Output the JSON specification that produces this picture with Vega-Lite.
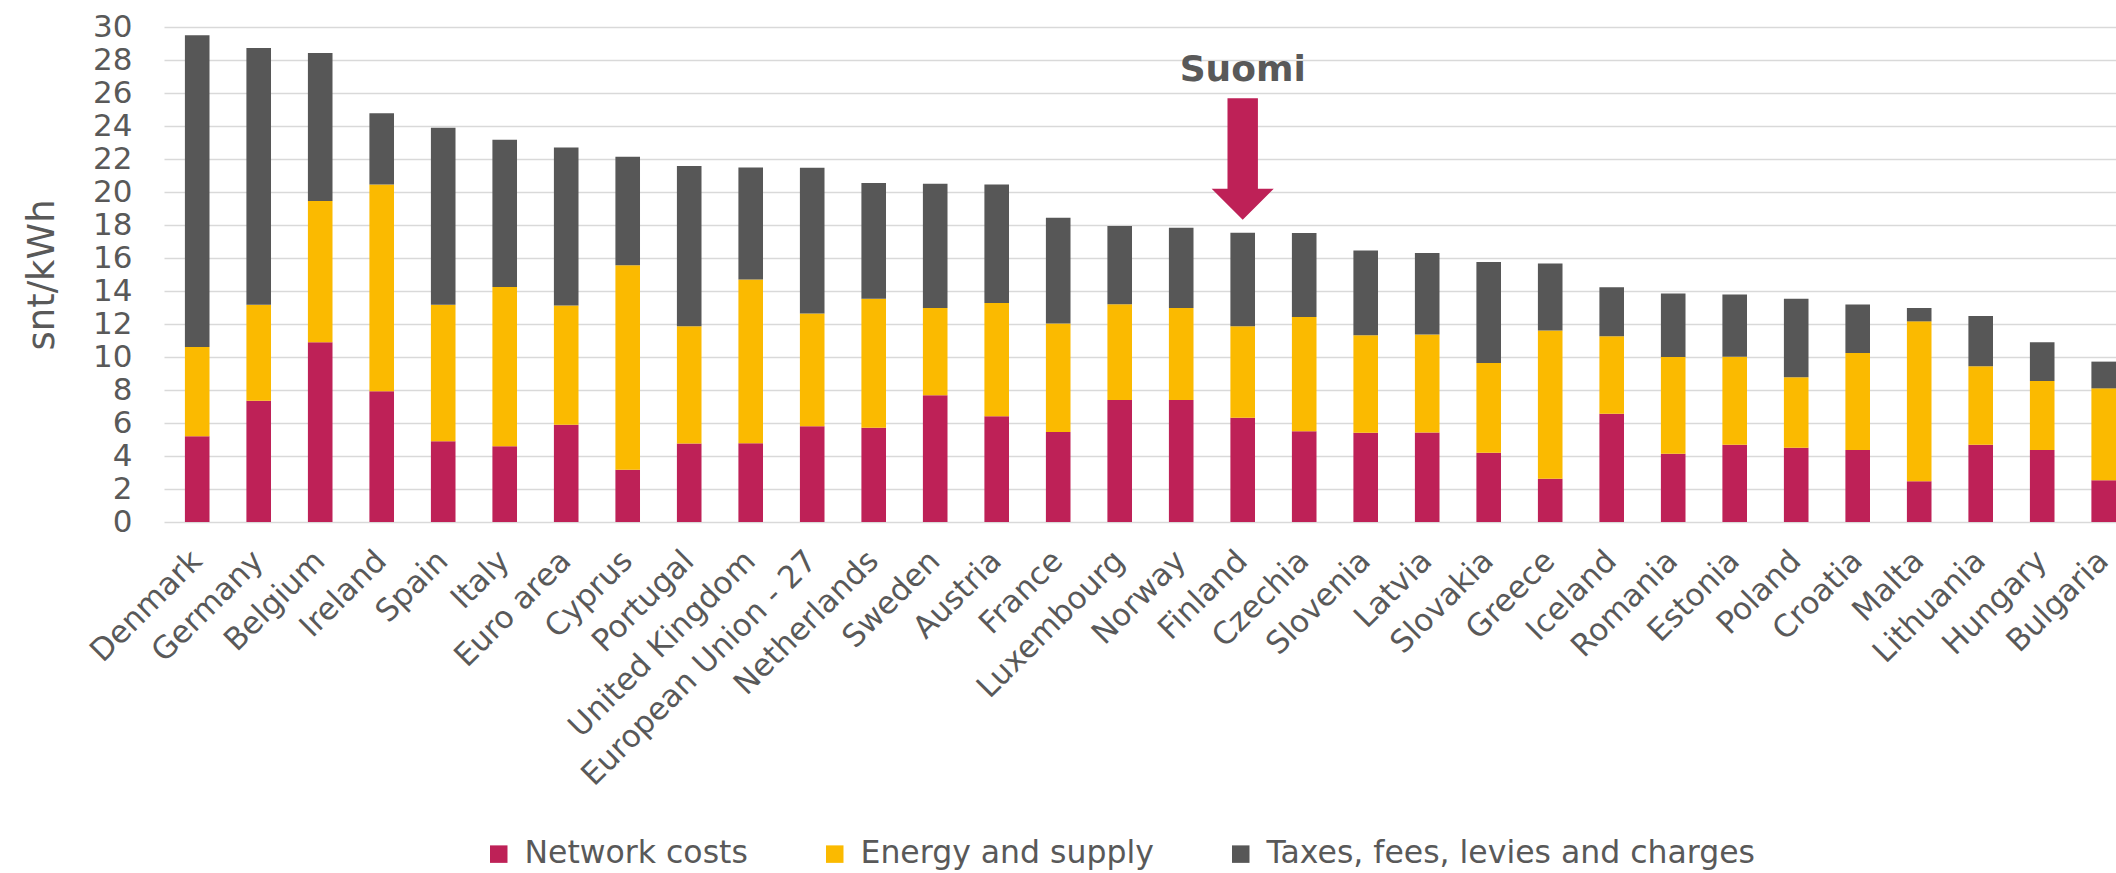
{
  "$schema": "https://vega.github.io/schema/vega-lite/v6.json",
  "width": 1952,
  "height": 495,
  "autosize": {"type": "none"},
  "padding": {"left": 164, "top": 27, "right": 0, "bottom": 351},
  "background": "white",
  "config": {
    "font": "DejaVu Sans",
    "view": {"stroke": null},
    "axis": {"labelColor": "#595959", "titleColor": "#595959"},
    "legend": {"labelColor": "#595959"}
  },
  "datasets": {
    "prices": [
      {"country": "Denmark", "component": "Network costs", "seq": 1, "value": 5.20},
      {"country": "Denmark", "component": "Energy and supply", "seq": 2, "value": 5.40},
      {"country": "Denmark", "component": "Taxes, fees, levies and charges", "seq": 3, "value": 18.90},
      {"country": "Germany", "component": "Network costs", "seq": 1, "value": 7.35},
      {"country": "Germany", "component": "Energy and supply", "seq": 2, "value": 5.82},
      {"country": "Germany", "component": "Taxes, fees, levies and charges", "seq": 3, "value": 15.55},
      {"country": "Belgium", "component": "Network costs", "seq": 1, "value": 10.89},
      {"country": "Belgium", "component": "Energy and supply", "seq": 2, "value": 8.57},
      {"country": "Belgium", "component": "Taxes, fees, levies and charges", "seq": 3, "value": 8.96},
      {"country": "Ireland", "component": "Network costs", "seq": 1, "value": 7.92},
      {"country": "Ireland", "component": "Energy and supply", "seq": 2, "value": 12.53},
      {"country": "Ireland", "component": "Taxes, fees, levies and charges", "seq": 3, "value": 4.33},
      {"country": "Spain", "component": "Network costs", "seq": 1, "value": 4.89},
      {"country": "Spain", "component": "Energy and supply", "seq": 2, "value": 8.27},
      {"country": "Spain", "component": "Taxes, fees, levies and charges", "seq": 3, "value": 10.74},
      {"country": "Italy", "component": "Network costs", "seq": 1, "value": 4.59},
      {"country": "Italy", "component": "Energy and supply", "seq": 2, "value": 9.65},
      {"country": "Italy", "component": "Taxes, fees, levies and charges", "seq": 3, "value": 8.92},
      {"country": "Euro area", "component": "Network costs", "seq": 1, "value": 5.89},
      {"country": "Euro area", "component": "Energy and supply", "seq": 2, "value": 7.23},
      {"country": "Euro area", "component": "Taxes, fees, levies and charges", "seq": 3, "value": 9.58},
      {"country": "Cyprus", "component": "Network costs", "seq": 1, "value": 3.16},
      {"country": "Cyprus", "component": "Energy and supply", "seq": 2, "value": 12.40},
      {"country": "Cyprus", "component": "Taxes, fees, levies and charges", "seq": 3, "value": 6.58},
      {"country": "Portugal", "component": "Network costs", "seq": 1, "value": 4.76},
      {"country": "Portugal", "component": "Energy and supply", "seq": 2, "value": 7.10},
      {"country": "Portugal", "component": "Taxes, fees, levies and charges", "seq": 3, "value": 9.72},
      {"country": "United Kingdom", "component": "Network costs", "seq": 1, "value": 4.78},
      {"country": "United Kingdom", "component": "Energy and supply", "seq": 2, "value": 9.92},
      {"country": "United Kingdom", "component": "Taxes, fees, levies and charges", "seq": 3, "value": 6.79},
      {"country": "European Union - 27", "component": "Network costs", "seq": 1, "value": 5.80},
      {"country": "European Union - 27", "component": "Energy and supply", "seq": 2, "value": 6.84},
      {"country": "European Union - 27", "component": "Taxes, fees, levies and charges", "seq": 3, "value": 8.83},
      {"country": "Netherlands", "component": "Network costs", "seq": 1, "value": 5.71},
      {"country": "Netherlands", "component": "Energy and supply", "seq": 2, "value": 7.82},
      {"country": "Netherlands", "component": "Taxes, fees, levies and charges", "seq": 3, "value": 7.01},
      {"country": "Sweden", "component": "Network costs", "seq": 1, "value": 7.68},
      {"country": "Sweden", "component": "Energy and supply", "seq": 2, "value": 5.29},
      {"country": "Sweden", "component": "Taxes, fees, levies and charges", "seq": 3, "value": 7.53},
      {"country": "Austria", "component": "Network costs", "seq": 1, "value": 6.41},
      {"country": "Austria", "component": "Energy and supply", "seq": 2, "value": 6.86},
      {"country": "Austria", "component": "Taxes, fees, levies and charges", "seq": 3, "value": 7.18},
      {"country": "France", "component": "Network costs", "seq": 1, "value": 5.45},
      {"country": "France", "component": "Energy and supply", "seq": 2, "value": 6.58},
      {"country": "France", "component": "Taxes, fees, levies and charges", "seq": 3, "value": 6.41},
      {"country": "Luxembourg", "component": "Network costs", "seq": 1, "value": 7.40},
      {"country": "Luxembourg", "component": "Energy and supply", "seq": 2, "value": 5.80},
      {"country": "Luxembourg", "component": "Taxes, fees, levies and charges", "seq": 3, "value": 4.74},
      {"country": "Norway", "component": "Network costs", "seq": 1, "value": 7.40},
      {"country": "Norway", "component": "Energy and supply", "seq": 2, "value": 5.57},
      {"country": "Norway", "component": "Taxes, fees, levies and charges", "seq": 3, "value": 4.87},
      {"country": "Finland", "component": "Network costs", "seq": 1, "value": 6.32},
      {"country": "Finland", "component": "Energy and supply", "seq": 2, "value": 5.54},
      {"country": "Finland", "component": "Taxes, fees, levies and charges", "seq": 3, "value": 5.67},
      {"country": "Czechia", "component": "Network costs", "seq": 1, "value": 5.50},
      {"country": "Czechia", "component": "Energy and supply", "seq": 2, "value": 6.92},
      {"country": "Czechia", "component": "Taxes, fees, levies and charges", "seq": 3, "value": 5.09},
      {"country": "Slovenia", "component": "Network costs", "seq": 1, "value": 5.41},
      {"country": "Slovenia", "component": "Energy and supply", "seq": 2, "value": 5.91},
      {"country": "Slovenia", "component": "Taxes, fees, levies and charges", "seq": 3, "value": 5.13},
      {"country": "Latvia", "component": "Network costs", "seq": 1, "value": 5.43},
      {"country": "Latvia", "component": "Energy and supply", "seq": 2, "value": 5.93},
      {"country": "Latvia", "component": "Taxes, fees, levies and charges", "seq": 3, "value": 4.94},
      {"country": "Slovakia", "component": "Network costs", "seq": 1, "value": 4.20},
      {"country": "Slovakia", "component": "Energy and supply", "seq": 2, "value": 5.43},
      {"country": "Slovakia", "component": "Taxes, fees, levies and charges", "seq": 3, "value": 6.13},
      {"country": "Greece", "component": "Network costs", "seq": 1, "value": 2.62},
      {"country": "Greece", "component": "Energy and supply", "seq": 2, "value": 8.98},
      {"country": "Greece", "component": "Taxes, fees, levies and charges", "seq": 3, "value": 4.07},
      {"country": "Iceland", "component": "Network costs", "seq": 1, "value": 6.56},
      {"country": "Iceland", "component": "Energy and supply", "seq": 2, "value": 4.70},
      {"country": "Iceland", "component": "Taxes, fees, levies and charges", "seq": 3, "value": 2.96},
      {"country": "Romania", "component": "Network costs", "seq": 1, "value": 4.13},
      {"country": "Romania", "component": "Energy and supply", "seq": 2, "value": 5.87},
      {"country": "Romania", "component": "Taxes, fees, levies and charges", "seq": 3, "value": 3.85},
      {"country": "Estonia", "component": "Network costs", "seq": 1, "value": 4.68},
      {"country": "Estonia", "component": "Energy and supply", "seq": 2, "value": 5.34},
      {"country": "Estonia", "component": "Taxes, fees, levies and charges", "seq": 3, "value": 3.77},
      {"country": "Poland", "component": "Network costs", "seq": 1, "value": 4.50},
      {"country": "Poland", "component": "Energy and supply", "seq": 2, "value": 4.27},
      {"country": "Poland", "component": "Taxes, fees, levies and charges", "seq": 3, "value": 4.76},
      {"country": "Croatia", "component": "Network costs", "seq": 1, "value": 4.37},
      {"country": "Croatia", "component": "Energy and supply", "seq": 2, "value": 5.87},
      {"country": "Croatia", "component": "Taxes, fees, levies and charges", "seq": 3, "value": 2.94},
      {"country": "Malta", "component": "Network costs", "seq": 1, "value": 2.47},
      {"country": "Malta", "component": "Energy and supply", "seq": 2, "value": 9.69},
      {"country": "Malta", "component": "Taxes, fees, levies and charges", "seq": 3, "value": 0.81},
      {"country": "Lithuania", "component": "Network costs", "seq": 1, "value": 4.68},
      {"country": "Lithuania", "component": "Energy and supply", "seq": 2, "value": 4.76},
      {"country": "Lithuania", "component": "Taxes, fees, levies and charges", "seq": 3, "value": 3.05},
      {"country": "Hungary", "component": "Network costs", "seq": 1, "value": 4.37},
      {"country": "Hungary", "component": "Energy and supply", "seq": 2, "value": 4.18},
      {"country": "Hungary", "component": "Taxes, fees, levies and charges", "seq": 3, "value": 2.34},
      {"country": "Bulgaria", "component": "Network costs", "seq": 1, "value": 2.53},
      {"country": "Bulgaria", "component": "Energy and supply", "seq": 2, "value": 5.57},
      {"country": "Bulgaria", "component": "Taxes, fees, levies and charges", "seq": 3, "value": 1.62}
    ],
    "arrow": [{"country": "Finland", "value": 22.0}],
    "note": [{"country": "Finland", "value": 26.75, "label": "Suomi"}]
  },
  "encoding": {
    "x": {
      "field": "country",
      "type": "nominal",
      "sort": null,
      "title": null,
      "scale": {"paddingInner": 0.6, "paddingOuter": 0.17, "align": 1},
      "axis": {
        "labelAngle": -45,
        "labelAlign": "right",
        "labelBaseline": "middle",
        "labelFontSize": 31,
        "labelColor": "#595959",
        "labelLimit": 0,
        "labelOverlap": false,
        "ticks": false,
        "domain": false,
        "labelPadding": 34
      }
    },
    "y": {
      "field": "value",
      "type": "quantitative",
      "title": "snt/kWh",
      "scale": {"domain": [0, 30], "nice": false},
      "axis": {
        "values": [0, 2, 4, 6, 8, 10, 12, 14, 16, 18, 20, 22, 24, 26, 28, 30],
        "grid": true,
        "gridColor": "#D9D9D9",
        "gridWidth": 1.5,
        "domain": false,
        "ticks": false,
        "tickSize": 0,
        "labelOverlap": false,
        "labelFlush": false,
        "labelBound": false,
        "labelFontSize": 31,
        "labelPadding": 32,
        "titleFontSize": 37,
        "titleFontWeight": "normal",
        "titlePadding": 31
      }
    }
  },
  "layer": [
    {
      "data": {"name": "prices"},
      "mark": {"type": "bar"},
      "encoding": {
        "order": {"field": "seq", "type": "quantitative", "sort": "ascending"},
        "color": {
          "field": "component",
          "type": "nominal",
          "scale": {
            "domain": ["Network costs", "Energy and supply", "Taxes, fees, levies and charges"],
            "range": ["#BE2157", "#FBBA00", "#575757"]
          },
          "legend": {
            "title": null,
            "orient": "none",
            "legendX": 319,
            "legendY": 811,
            "direction": "horizontal",
            "symbolType": "square",
            "symbolSize": 306,
            "symbolStrokeWidth": 0,
            "labelFontSize": 31.5,
            "labelLimit": 0,
            "labelOffset": 10,
            "columnPadding": 71
          }
        }
      }
    },
    {
      "data": {"name": "arrow"},
      "mark": {
        "type": "point",
        "shape": "M-0.25,-1L0.25,-1L0.25,0.49L0.51,0.49L0,1L-0.51,0.49L-0.25,0.49Z",
        "filled": true,
        "size": 14811,
        "color": "#BE2157",
        "opacity": 1,
        "strokeWidth": 0
      }
    },
    {
      "data": {"name": "note"},
      "mark": {
        "type": "text",
        "fontSize": 36,
        "fontWeight": "bold",
        "color": "#595959",
        "baseline": "alphabetic",
        "align": "center"
      },
      "encoding": {
        "text": {"field": "label"}
      }
    }
  ]
}
